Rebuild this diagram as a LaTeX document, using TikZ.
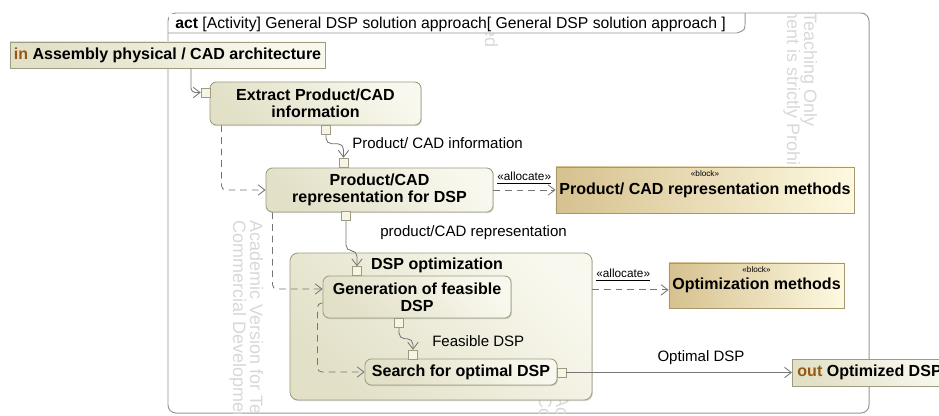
\documentclass[tikz,border=0pt]{standalone}
\usepackage{fontspec}
\setmainfont{Liberation Sans}
\usetikzlibrary{positioning}
\usetikzlibrary{shapes,arrows.meta}
\usetikzlibrary{calc,shadows}

\definecolor{actlight}{RGB}{249,248,238}
\definecolor{actdark}{RGB}{226,224,199}
\definecolor{actline}{RGB}{158,156,128}
\definecolor{blklight}{RGB}{253,249,224}
\definecolor{blkdark}{RGB}{214,193,143}
\definecolor{blkline}{RGB}{168,150,108}
\definecolor{portfill}{RGB}{246,244,228}
\definecolor{flowgray}{RGB}{118,118,118}
\definecolor{kword}{RGB}{150,88,20}
\definecolor{wmgray}{RGB}{216,216,216}
\definecolor{framegray}{RGB}{150,150,150}

\tikzset{
  shade3d/.style={drop shadow={shadow xshift=0.6pt, shadow yshift=-0.8pt, opacity=0.3}},
  act/.style={draw=actline, line width=0.6pt, rounded corners=1.6mm, top color=actlight,
    bottom color=actdark, shading angle=-45, shade3d, align=center, inner sep=0pt,
    font=\fontsize{11.4}{12.4}\selectfont\bfseries},
  iobox/.style={draw=actline, line width=0.6pt, top color=actlight, bottom color=actdark,
    shading angle=-45, shade3d, inner sep=0pt, font=\fontsize{11.4}{12.4}\selectfont\bfseries},
  block/.style={draw=blkline, line width=0.6pt, left color=blkdark, right color=blklight,
    shade3d, inner sep=0pt, font=\fontsize{11.4}{12.4}\selectfont\bfseries},
  blkstereo/.style={font=\fontsize{5.8}{6.5}\selectfont, inner sep=0pt},
  port/.style={draw=actline, fill=portfill, line width=0.5pt, minimum width=0.22cm,
    minimum height=0.22cm, inner sep=0pt},
  flow/.style={draw=flowgray, line width=0.6pt, -{Straight Barb[length=1.7mm, width=2.6mm]}},
  ctrl/.style={flow, dash pattern=on 1.7mm off 1.2mm},
  flowlbl/.style={font=\fontsize{10.7}{12}\selectfont, inner sep=0pt},
  alloc/.style={font=\fontsize{8.4}{9}\selectfont, inner sep=0pt},
  actframe/.style={draw=framegray, line width=0.7pt},
  wm/.style={rotate=-90, text=wmgray, inner sep=0pt, font=\fontsize{12.8}{14}\selectfont}
}

\begin{document}
\begin{tikzpicture}[x=0.025cm, y=-0.025cm]
\useasboundingbox (0,0) rectangle (939,415);
% Frame
\draw[actframe, rounded corners=2mm] (168,13) rectangle (869,413);
\begin{scope}
\clip (168,13) rectangle (869,413);
\foreach \wx/\wy in {250/220, 804/-163, 556/395, 502/-320}{
  \node[wm, anchor=base west] at (\wx,\wy) {Academic Version for Teaching Only};
  \node[wm, anchor=base west] at (\wx-17,\wy) {Commercial Development is strictly Prohibited};
}
\end{scope}
\fill[white] (169,14) rectangle (744,32.6);
\draw[actframe] (168,33) -- (737,33) .. controls (745,30) .. (745,23) -- (745,13);
\node[anchor=base west, inner sep=0pt, font=\fontsize{11.2}{12}\selectfont] (title) at (175,28)
  {\textbf{act} [Activity] General DSP solution approach[ General DSP solution approach ]};
% Parameters
\node[iobox, minimum width=7.875cm, minimum height=0.65cm] (inbox) at (167.5,55)
  {\textcolor{kword}{in} Assembly physical / CAD architecture};
\node[iobox, anchor=west, minimum height=0.675cm, inner xsep=0.125cm] (outbox) at (792,372.5)
  {\textcolor{kword}{out} Optimized DSP};
% Actions
\node[act, minimum width=5.275cm, minimum height=1.075cm] (extract) at (315.5,103.5)
  {Extract Product/CAD\\information};
\node[act, minimum width=5.675cm, minimum height=1.1cm] (prodrep) at (379.5,190)
  {Product/CAD\\representation for DSP};
\node[act, rounded corners=2mm, minimum width=7.55cm, minimum height=3.675cm] (dspopt) at (441,326.5) {};
\node[inner sep=0pt, font=\fontsize{11.4}{12.4}\selectfont\bfseries] (dsplbl) at (437,265) {DSP optimization};
\node[act, minimum width=4.7cm, minimum height=1.05cm] (gen) at (417,297)
  {Generation of feasible\\DSP};
\node[act, minimum width=4.8cm, minimum height=0.65cm] (search) at (461,372)
  {Search for optimal DSP};
% Blocks
\node[block, minimum width=7.45cm, minimum height=1.15cm,
  label={[blkstereo, anchor=north, yshift=-2.5pt]north:«block»}] (pcrm) at (705,190)
  {Product/ CAD representation methods};
\node[block, minimum width=4.375cm, minimum height=1.125cm,
  label={[blkstereo, anchor=north, yshift=-2.5pt]north:«block»}] (optm) at (756.5,285.5)
  {Optimization methods};
% Pins
\node[port] (exL) at (205.5,92.5) {};
\node[port] (exB) at (326,130) {};
\node[port] (prT) at (343.5,162.5) {};
\node[port] (prB) at (346,216) {};
\node[port] (gnT) at (357,271) {};
\node[port] (gnB) at (399,323) {};
\node[port] (seT) at (413,354.5) {};
\node[port] (seR) at (561.5,372.5) {};
% Object flows
\draw[flow, rounded corners=3pt] ([xshift=0.5875cm]inbox.south) |- (exL.west);
\draw[flow, rounded corners=4pt] (exB.south) -- ++(0,9) -| (prT.north);
\draw[flow, rounded corners=4pt] (prB.south) -- ++(0,30) -| (gnT.north);
\draw[flow, rounded corners=4pt] (gnB.south) -- ++(0,11) -| (seT.north);
\draw[flow] (seR.east) -- (outbox.west);
% Control flows
\draw[ctrl, rounded corners=3pt] ([xshift=0.3cm]extract.south west) |- (prodrep.west);
\draw[ctrl, rounded corners=3pt] ([xshift=0.175cm]prodrep.south west) |- ([yshift=0.2cm]gen.west);
\draw[ctrl, rounded corners=3pt] ([yshift=-0.15cm]gen.west) -- ++(-5,0) |- (search.west);
% Allocations
\draw[ctrl] (prodrep.east) -- (pcrm.west);
\coordinate (al2) at ([yshift=-0.11cm]optm.west);
\draw[ctrl] (al2 -| dspopt.east) -- (al2);
% Labels
\node[flowlbl, anchor=west] (lbinfo) at (352,143) {Product/ CAD information};
\node[flowlbl, anchor=west] (lbrep) at (380,233) {product/CAD representation};
\node[flowlbl, anchor=west] (lbfeas) at (432,341) {Feasible DSP};
\node[flowlbl] (lbopt) at (701,358) {Optimal DSP};
\node[alloc, anchor=west] (alA) at (497,178) {\underline{«allocate»}};
\node[alloc, anchor=west] (alB) at (596,275) {\underline{«allocate»}};
\end{tikzpicture}
\end{document}
